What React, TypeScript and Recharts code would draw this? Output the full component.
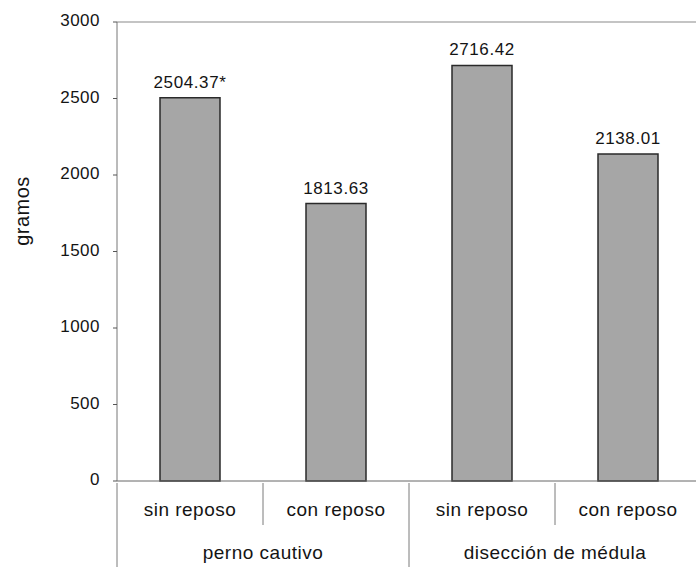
import React from 'react';
import { BarChart, Bar, XAxis, YAxis, LabelList, ReferenceLine } from 'recharts';

const categories = ['sin reposo', 'con reposo', 'sin reposo', 'con reposo'];
const groups = ['perno cautivo', 'perno cautivo', 'disección de médula', 'disección de médula'];
const values = [2504.37, 1813.63, 2716.42, 2138.01];
const valueLabels = ['2504.37*', '1813.63', '2716.42', '2138.01'];
const yTicks = [0, 500, 1000, 1500, 2000, 2500, 3000];

const data = categories.map((c, i) => ({
  id: `${groups[i]}-${c}-${i}`,
  sub: c,
  group: groups[i],
  value: values[i],
  label: valueLabels[i],
}));

const FONT = '"Liberation Sans", Arial, sans-serif';
const TEXT = '#141414';
const LINE = '#7a7a7a';
const BOTTOM = 567;

const XTick = (props: any) => {
  const { x, y, payload, index } = props;
  const half = payload && typeof payload.offset === 'number' && payload.offset > 0 ? payload.offset : 73;
  const d = data[index] || data[0];
  const els: any[] = [];
  els.push(
    <text key="s" x={x} y={y + 33} textAnchor="middle" fontSize={19} letterSpacing={0.5} fontFamily={FONT} fill={TEXT}>
      {d.sub}
    </text>
  );
  if (index === 0) {
    els.push(<line key="l" x1={x - half} x2={x - half} y1={y} y2={BOTTOM} stroke={LINE} strokeWidth={1} />);
  }
  const isGroupEnd = index === data.length - 1 || data[index + 1].group !== d.group;
  els.push(
    <line key="r" x1={x + half} x2={x + half} y1={y} y2={isGroupEnd ? BOTTOM : y + 42} stroke={LINE} strokeWidth={1} />
  );
  const isGroupStart = index === 0 || data[index - 1].group !== d.group;
  if (isGroupStart) {
    els.push(
      <text key="g" x={x + half} y={y + 76} textAnchor="middle" fontSize={19} letterSpacing={0.5} fontFamily={FONT} fill={TEXT}>
        {d.group}
      </text>
    );
  }
  return <g>{els}</g>;
};

const YLabel = () => (
  <text x={22} y={211} transform="rotate(-90 22 211)" textAnchor="middle" dominantBaseline="central" fontSize={20} letterSpacing={0.5} fontFamily={FONT} fill={TEXT}>
    gramos
  </text>
);

export default function App() {
  return (
    <div style={{ position: 'absolute', left: 0, top: 0, width: 696, height: 567, overflow: 'hidden', background: '#fff' }}>
      <BarChart
        width={701}
        height={567}
        data={data}
        margin={{ top: 22, right: 0, bottom: 0, left: 0 }}
        barCategoryGap={43}
      >
        <ReferenceLine y={3000} stroke="#8a8a8a" strokeWidth={1.2} ifOverflow="visible" />
        <XAxis
          dataKey="id"
          height={86}
          tickSize={0}
          tickLine={false}
          axisLine={{ stroke: '#666', strokeWidth: 1 }}
          tick={<XTick />}
          interval={0}
        />
        <YAxis
          width={117}
          domain={[0, 3000]}
          ticks={yTicks}
          tickSize={4}
          tickMargin={13}
          axisLine={{ stroke: '#777', strokeWidth: 1 }}
          tickLine={{ stroke: '#555' }}
          tick={{ fontSize: 17, fontFamily: FONT, fill: TEXT, dy: -2, letterSpacing: 0.5 }}
          label={<YLabel />}
        />
        <Bar dataKey="value" fill="#a6a6a6" stroke="#2a2a2a" strokeWidth={1.5} isAnimationActive={false}>
          <LabelList dataKey="label" position="top" offset={10} style={{ fontSize: 17, fontFamily: FONT, fill: TEXT, letterSpacing: 0.6 }} />
        </Bar>
      </BarChart>
    </div>
  );
}
